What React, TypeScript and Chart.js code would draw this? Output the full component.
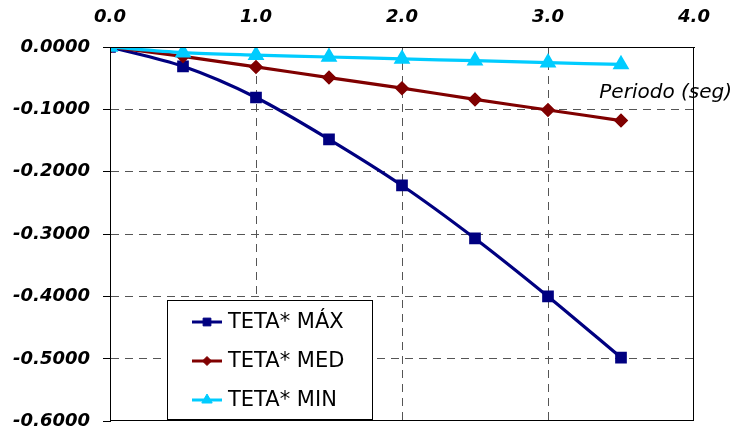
import React, { useEffect, useRef } from "react";
import { Chart, registerables } from "chart.js";
import { drawPoint } from "chart.js/helpers";

Chart.register(...registerables);

const periods = [0, 0.5, 1.0, 1.5, 2.0, 2.5, 3.0, 3.5];
const tetaMax = [0, -0.031, -0.081, -0.148, -0.222, -0.307, -0.4, -0.498];
const tetaMed = [0, -0.015, -0.032, -0.049, -0.066, -0.084, -0.101, -0.118];
const tetaMin = [0, -0.009, -0.013, -0.016, -0.019, -0.022, -0.025, -0.028];
const seriesLabels = ["TETA* MÁX", "TETA* MED", "TETA* MIN"];
const xAxisTitle = "Periodo (seg)";

const toPts = (ys: number[]) => periods.map((x, i) => ({ x, y: ys[i] }));

const frame = {
  id: "frame",
  afterDraw(chart: any) {
    const { ctx, chartArea: a } = chart;
    ctx.save();
    ctx.strokeStyle = "#000";
    ctx.lineWidth = 1;
    ctx.strokeRect(Math.round(a.left) + 0.5, Math.round(a.top) + 0.5, Math.round(a.right - a.left) - 1, Math.round(a.bottom - a.top) - 1);
    ctx.restore();
  },
};

const axisTitle = {
  id: "axisTitle",
  afterDraw(chart: any) {
    const { ctx } = chart;
    ctx.save();
    ctx.font = "italic 20px 'DejaVu Sans'";
    ctx.fillStyle = "#000";
    ctx.textAlign = "right";
    ctx.textBaseline = "alphabetic";
    ctx.fillText(xAxisTitle, chart.width - 1, 98);
    ctx.restore();
  },
};

const boxLegend = {
  id: "boxLegend",
  afterDraw(chart: any) {
    const { ctx } = chart;
    const left = 167, top = 300, w = 205, h = 119;
    ctx.save();
    ctx.fillStyle = "#fff";
    ctx.fillRect(left, top, w, h);
    ctx.strokeStyle = "#000";
    ctx.lineWidth = 1;
    ctx.strokeRect(left + 0.5, top + 0.5, w, h);
    chart.data.datasets.forEach((ds: any, i: number) => {
      const cy = top + 22 + i * 39;
      ctx.strokeStyle = ds.borderColor;
      ctx.lineWidth = 3;
      ctx.beginPath();
      ctx.moveTo(192, cy);
      ctx.lineTo(222, cy);
      ctx.stroke();
      ctx.fillStyle = ds.pointBackgroundColor;
      ctx.strokeStyle = ds.pointBorderColor;
      ctx.lineWidth = 1;
      drawPoint(ctx, { pointStyle: ds.pointStyle, radius: ds.pointRadius - 0.5, borderWidth: 1, rotation: 0 } as any, 207, cy);
      ctx.fillStyle = "#000";
      ctx.font = "21px 'DejaVu Sans'";
      ctx.textAlign = "left";
      ctx.textBaseline = "middle";
      ctx.fillText(ds.label, 228, cy + 1);
    });
    ctx.restore();
  },
};

export default function App() {
  const ref = useRef<HTMLCanvasElement>(null);
  useEffect(() => {
    document.body.style.margin = "0";
    const tickFont = { family: "'DejaVu Sans'", size: 18, weight: "bold" as const, style: "italic" as const };
    const gridGray = "#555";
    const chart = new Chart(ref.current!, {
      type: "line",
      data: {
        datasets: [
          {
            label: seriesLabels[0],
            data: toPts(tetaMax),
            borderColor: "#000080",
            backgroundColor: "#000080",
            pointBackgroundColor: "#000080",
            pointBorderColor: "#000080",
            pointStyle: "rect",
            pointRadius: 6,
            borderWidth: 3.2,
            tension: 0.3,
            order: 3,
          },
          {
            label: seriesLabels[1],
            data: toPts(tetaMed),
            borderColor: "#800000",
            backgroundColor: "#800000",
            pointBackgroundColor: "#800000",
            pointBorderColor: "#800000",
            pointStyle: "rectRot",
            pointRadius: 5,
            borderWidth: 3.2,
            tension: 0.3,
            order: 2,
          },
          {
            label: seriesLabels[2],
            data: toPts(tetaMin),
            borderColor: "#00CCFF",
            backgroundColor: "#00CCFF",
            pointBackgroundColor: "#00CCFF",
            pointBorderColor: "#00CCFF",
            pointStyle: "triangle",
            pointRadius: 6.5,
            borderWidth: 3.2,
            tension: 0.3,
            order: 1,
          },
        ] as any,
      },
      options: {
        animation: false,
        responsive: false,
        layout: { padding: { left: 0, right: 39, top: 0, bottom: 13 } },
        plugins: { legend: { display: false }, tooltip: { enabled: false } },
        scales: {
          x: {
            type: "linear",
            position: "top",
            min: 0,
            max: 4,
            ticks: {
              stepSize: 1,
              font: tickFont,
              color: "#000",
              padding: 19,
              callback: (v: any) => Number(v).toFixed(1),
            },
            grid: {
              drawTicks: false,
              color: (c: any) => (c.tick && (c.tick.value === 0 || c.tick.value === 4) ? "rgba(0,0,0,0)" : gridGray),
              lineWidth: 1,
            },
            border: { display: true, color: "#000", width: 1, dash: [8, 6] },
            afterFit: (s: any) => {
              s.height = 47;
            },
          },
          y: {
            type: "linear",
            min: -0.6,
            max: 0,
            ticks: {
              stepSize: 0.1,
              font: tickFont,
              color: "#000",
              padding: 13,
              callback: (v: any) => (Math.abs(Number(v)) < 1e-9 ? "0.0000" : Number(v).toFixed(4)),
            },
            grid: {
              color: (c: any) =>
                c.tick && (Math.abs(c.tick.value) < 1e-9 || Math.abs(c.tick.value + 0.6) < 1e-9) ? "rgba(0,0,0,0)" : gridGray,
              lineWidth: 1,
              tickLength: 7,
              tickColor: "#000",
              tickWidth: 1,
              tickBorderDash: [],
            } as any,
            border: { display: true, color: "#000", width: 1, dash: [8, 6] },
            afterFit: (s: any) => {
              s.width = 110;
            },
          },
        },
      },
      plugins: [frame, boxLegend, axisTitle],
    });
    return () => chart.destroy();
  }, []);
  return (
    <div style={{ width: 733, height: 445 }}>
      <canvas ref={ref} width={733} height={445} />
    </div>
  );
}
